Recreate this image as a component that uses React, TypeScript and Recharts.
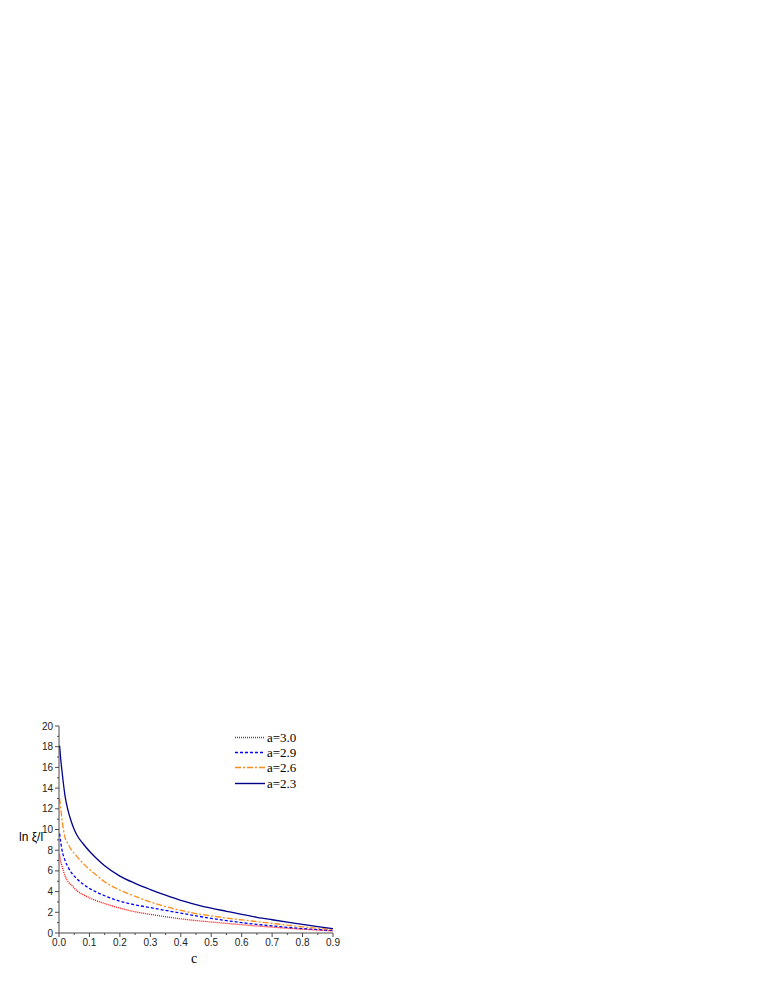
import { Line, LineChart, XAxis, YAxis } from "recharts";

const cValues = [
  0.002, 0.005, 0.01, 0.02, 0.03, 0.04, 0.05, 0.06, 0.08, 0.1, 0.12, 0.15, 0.2,
  0.25, 0.3, 0.35, 0.4, 0.45, 0.5, 0.55, 0.6, 0.65, 0.7, 0.75, 0.8, 0.85, 0.9,
];

const a30 = [
  7.6, 7.0, 6.45, 5.5, 4.95, 4.65, 4.35, 4.05, 3.7, 3.4, 3.15, 2.85, 2.4, 2.05,
  1.8, 1.57, 1.37, 1.2, 1.06, 0.93, 0.8, 0.68, 0.57, 0.46, 0.37, 0.28, 0.2,
];
const a29 = [
  9.6, 8.9, 8.0, 7.0, 6.35, 5.85, 5.5, 5.2, 4.7, 4.3, 4.0, 3.6, 3.08, 2.72,
  2.45, 2.18, 1.92, 1.66, 1.42, 1.2, 1.0, 0.83, 0.68, 0.55, 0.43, 0.33, 0.24,
];
const a26 = [
  13.0, 12.2, 10.9, 9.2, 8.6, 8.05, 7.7, 7.35, 6.7, 6.15, 5.65, 4.95, 4.15,
  3.55, 3.0, 2.55, 2.18, 1.88, 1.65, 1.45, 1.27, 1.1, 0.93, 0.76, 0.6, 0.46,
  0.33,
];
const a23 = [
  18.1, 17.0, 15.6, 13.2, 11.8, 10.8, 10.0, 9.4, 8.6, 7.9, 7.3, 6.5, 5.5, 4.8,
  4.2, 3.65, 3.15, 2.75, 2.4, 2.1, 1.8, 1.52, 1.28, 1.05, 0.84, 0.62, 0.42,
];

const xTicks = [
  0, 0.05, 0.1, 0.15, 0.2, 0.25, 0.3, 0.35, 0.4, 0.45, 0.5, 0.55, 0.6, 0.65,
  0.7, 0.75, 0.8, 0.85, 0.9,
];
const yTicks = [
  0, 1, 2, 3, 4, 5, 6, 7, 8, 9, 10, 11, 12, 13, 14, 15, 16, 17, 18, 19, 20,
];

const series = [
  { key: "a30", label: "a=3.0", values: a30, color: "#ff0000", dash: "1 1" },
  { key: "a29", label: "a=2.9", values: a29, color: "#0000ff", dash: "3 2" },
  { key: "a26", label: "a=2.6", values: a26, color: "#ff8c1a", dash: "6 2 2 2" },
  { key: "a23", label: "a=2.3", values: a23, color: "#00008b", dash: undefined },
];

const data = cValues.map((c, i) => {
  const row: Record<string, number> = { c };
  series.forEach((s) => {
    row[s.key] = s.values[i];
  });
  return row;
});

const AXIS = "#4a4a4a";
const SANS = "'Liberation Sans', Arial, sans-serif";
const SERIF = "'Liberation Serif', 'Times New Roman', serif";

function XTick(props: any) {
  const { x, y, payload, index } = props;
  const major = index % 2 === 0;
  return (
    <g>
      <line x1={x} x2={x} y1={y} y2={y + (major ? 4 : 2)} stroke={AXIS} />
      {major ? (
        <text
          x={x}
          y={y + 13}
          textAnchor="middle"
          fontSize={10}
          fontFamily={SANS}
          fill="#222"
        >
          {Number(payload.value).toFixed(1)}
        </text>
      ) : null}
    </g>
  );
}

function YTick(props: any) {
  const { x, y, payload, index } = props;
  const major = index % 2 === 0;
  return (
    <g>
      <line x1={x} x2={x - (major ? 4 : 2)} y1={y} y2={y} stroke={AXIS} />
      {major ? (
        <text
          x={x - 6}
          y={y + 3.5}
          textAnchor="end"
          fontSize={10}
          fontFamily={SANS}
          fill="#222"
        >
          {payload.value}
        </text>
      ) : null}
    </g>
  );
}

// legend drawn as an overlay so it does not shrink the plot area
function LegendBox() {
  return (
    <div style={{ position: "absolute", left: 233, top: 730, width: 90 }}>
      {series.map((s) => (
        <div
          key={s.key}
          style={{ display: "flex", alignItems: "center", height: 15.2 }}
        >
          <svg width={32} height={7} style={{ marginRight: 2 }}>
            <line
              x1={2}
              x2={32}
              y1={3.5}
              y2={3.5}
              stroke={s.color}
              strokeWidth={1.4}
              strokeDasharray={s.dash}
            />
          </svg>
          <span
            style={{
              fontFamily: SERIF,
              fontSize: 13,
              color: "#000",
              lineHeight: "15px",
            }}
          >
            {s.label}
          </span>
        </div>
      ))}
    </div>
  );
}

export default function App() {
  return (
    <div
      style={{
        position: "absolute",
        left: 0,
        top: 0,
        width: 765,
        height: 990,
        background: "#fff",
      }}
    >
      <LineChart
        width={765}
        height={990}
        data={data}
        margin={{ top: 726, right: 432, bottom: 27, left: 19 }}
      >
        <XAxis
          dataKey="c"
          type="number"
          domain={[0, 0.9]}
          ticks={xTicks}
          interval={0}
          tick={<XTick />}
          tickLine={false}
          tickSize={0}
          tickMargin={0}
          axisLine={{ stroke: AXIS }}
          height={30}
        />
        <YAxis
          type="number"
          domain={[0, 20]}
          ticks={yTicks}
          interval={0}
          tick={<YTick />}
          tickLine={false}
          tickSize={0}
          tickMargin={0}
          axisLine={{ stroke: AXIS }}
          width={40}
        />
        {series.map((s) => (
          <Line
            key={s.key}
            dataKey={s.key}
            name={s.label}
            type="monotone"
            stroke={s.color}
            strokeWidth={1.3}
            strokeDasharray={s.dash}
            dot={false}
            isAnimationActive={false}
          />
        ))}
      </LineChart>
      <LegendBox />
      <div
        style={{
          position: "absolute",
          left: 19,
          top: 830,
          fontFamily: SANS,
          fontSize: 12,
          color: "#000",
          whiteSpace: "nowrap",
        }}
      >
        ln ξ/l
      </div>
      <div
        style={{
          position: "absolute",
          left: 191,
          top: 951,
          fontFamily: SERIF,
          fontSize: 14,
          color: "#000",
        }}
      >
        c
      </div>
    </div>
  );
}
